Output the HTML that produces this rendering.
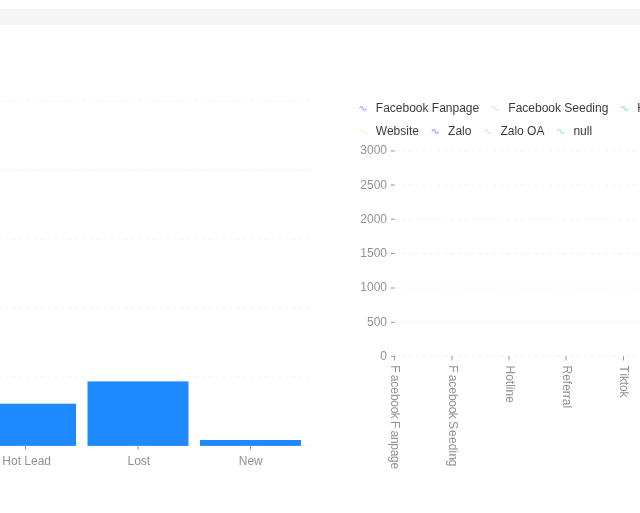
<!DOCTYPE html>
<html>
<head>
<meta charset="utf-8">
<style>
html,body{margin:0;padding:0;background:#fff;}
body{width:640px;height:513px;overflow:hidden;position:relative;font-family:"Liberation Sans",sans-serif;}
#band{position:absolute;left:0;top:9px;width:640px;height:15.5px;background:#f5f5f5;}
svg{position:absolute;left:0;top:0;will-change:transform;}
text{font-family:"Liberation Sans",sans-serif;font-size:12px;}
.ax{fill:#929292;}
.lg{fill:#3b3b45;}
.grid{stroke:#f4f4f4;stroke-width:1;stroke-dasharray:3.5 3.5;fill:none;}
.tick{stroke:#969696;stroke-width:1;fill:none;}
.rot{font-kerning:none;}
.ic{fill:none;stroke-width:1.3;opacity:.62;}
</style>
</head>
<body>
<div id="band"></div>
<svg width="640" height="513" viewBox="0 0 640 513">
<!-- left chart grid -->
<g class="grid" stroke-dashoffset="1.75">
<line x1="0" y1="101" x2="310" y2="101"/>
<line x1="0" y1="170" x2="310" y2="170"/>
<line x1="0" y1="239" x2="310" y2="239"/>
<line x1="0" y1="308" x2="310" y2="308"/>
<line x1="0" y1="377" x2="310" y2="377"/>
<line x1="0" y1="446" x2="310" y2="446"/>
</g>
<!-- bars -->
<rect x="-25" y="403.7" width="101" height="42.2" fill="#1f8aff"/>
<rect x="87.5" y="381.4" width="101" height="64.5" fill="#1f8aff"/>
<rect x="200" y="440" width="101" height="5.9" fill="#1f8aff"/>
<!-- left ticks -->
<g class="tick">
<line x1="25.5" y1="445.5" x2="25.5" y2="449.7"/>
<line x1="138" y1="445.5" x2="138" y2="449.7"/>
<line x1="250.5" y1="445.5" x2="250.5" y2="449.7"/>
</g>
<g class="ax" text-anchor="middle">
<text x="26.7" y="464.8">Hot Lead</text>
<text x="138.8" y="464.8">Lost</text>
<text x="250.8" y="464.8">New</text>
</g>
<!-- right chart grid -->
<g class="grid" stroke-dashoffset="0.25">
<line x1="394.75" y1="151" x2="640" y2="151"/>
<line x1="394.75" y1="185" x2="640" y2="185"/>
<line x1="394.75" y1="219.25" x2="640" y2="219.25"/>
<line x1="394.75" y1="253.5" x2="640" y2="253.5"/>
<line x1="394.75" y1="288" x2="640" y2="288"/>
<line x1="394.75" y1="322" x2="640" y2="322"/>
<line x1="394.75" y1="356.25" x2="640" y2="356.25"/>
</g>
<g class="tick">
<line x1="390.75" y1="151" x2="394.75" y2="151"/>
<line x1="390.75" y1="185" x2="394.75" y2="185"/>
<line x1="390.75" y1="219.25" x2="394.75" y2="219.25"/>
<line x1="390.75" y1="253.5" x2="394.75" y2="253.5"/>
<line x1="390.75" y1="288" x2="394.75" y2="288"/>
<line x1="390.75" y1="322.3" x2="394.75" y2="322.3"/>
<line x1="390.75" y1="356.25" x2="394.75" y2="356.25"/>
<line x1="394.5" y1="356" x2="394.5" y2="360.5"/>
<line x1="452" y1="356" x2="452" y2="360.5"/>
<line x1="509" y1="356" x2="509" y2="360.5"/>
<line x1="566" y1="356" x2="566" y2="360.5"/>
<line x1="623.5" y1="356" x2="623.5" y2="360.5"/>
</g>
<g class="ax" text-anchor="end">
<text x="387" y="153.8">3000</text>
<text x="387" y="188.8">2500</text>
<text x="387" y="222.8">2000</text>
<text x="387" y="256.9">1500</text>
<text x="387" y="290.8">1000</text>
<text x="387" y="325.8">500</text>
<text x="387" y="359.9">0</text>
</g>
<g class="ax rot">
<text transform="translate(391.3,365.5) rotate(90)" dx="-0.3 2.3 -0.25 -0.15 0.2 -0.4 -0.2 -0.8 -0.4 -0.6 2.2 -0.2 -0.4 -0.2 -0.5 -0.3">Facebook Fanpage</text>
<text transform="translate(448.5,365.5) rotate(90)" dx="-0.3 2.3 -0.25 -0.15 0.2 -0.4 -0.2 -0.8 -0.4 -0.6 0.95 0.25 0.2 0 0.4 -0.4">Facebook Seeding</text>
<text transform="translate(505.7,365.5) rotate(90)">Hotline</text>
<text transform="translate(563,365.5) rotate(90)">Referral</text>
<text transform="translate(620.2,365.5) rotate(90)" dx="0 0.7 -0.2 -0.2 -0.2 -0.1">Tiktok</text>
</g>
<!-- legend -->
<g class="ic">
<path d="M359.9 108.5 A1.55 1.8 0 1 1 363 108.5 A1.55 1.8 0 1 0 366.1 108.5" stroke="#5B8FF9"/>
<path d="M492.4 108.5 A1.55 1.8 0 1 1 495.5 108.5 A1.55 1.8 0 1 0 498.6 108.5" stroke="#CDDDFD"/>
<path d="M621.4 108.5 A1.55 1.8 0 1 1 624.5 108.5 A1.55 1.8 0 1 0 627.6 108.5" stroke="#61DDAA"/>
<path d="M359.9 131.5 A1.55 1.8 0 1 1 363 131.5 A1.55 1.8 0 1 0 366.1 131.5" stroke="#FCEBB9"/>
<path d="M432.2 131.5 A1.55 1.8 0 1 1 435.3 131.5 A1.55 1.8 0 1 0 438.4 131.5" stroke="#7262fd"/>
<path d="M484.5 131.5 A1.55 1.8 0 1 1 487.6 131.5 A1.55 1.8 0 1 0 490.7 131.5" stroke="#D3CEFD"/>
<path d="M557.5 131.5 A1.55 1.8 0 1 1 560.6 131.5 A1.55 1.8 0 1 0 563.7 131.5" stroke="#78D3F8"/>
</g>
<g class="lg">
<text x="375.8" y="111.8">Facebook Fanpage</text>
<text x="508.3" y="111.8">Facebook Seeding</text>
<text x="637.3" y="111.8">Hotline</text>
<text x="375.8" y="134.8">Website</text>
<text x="448.1" y="134.8">Zalo</text>
<text x="500.4" y="134.8">Zalo OA</text>
<text x="573.4" y="134.8">null</text>
</g>
</svg>
</body>
</html>
